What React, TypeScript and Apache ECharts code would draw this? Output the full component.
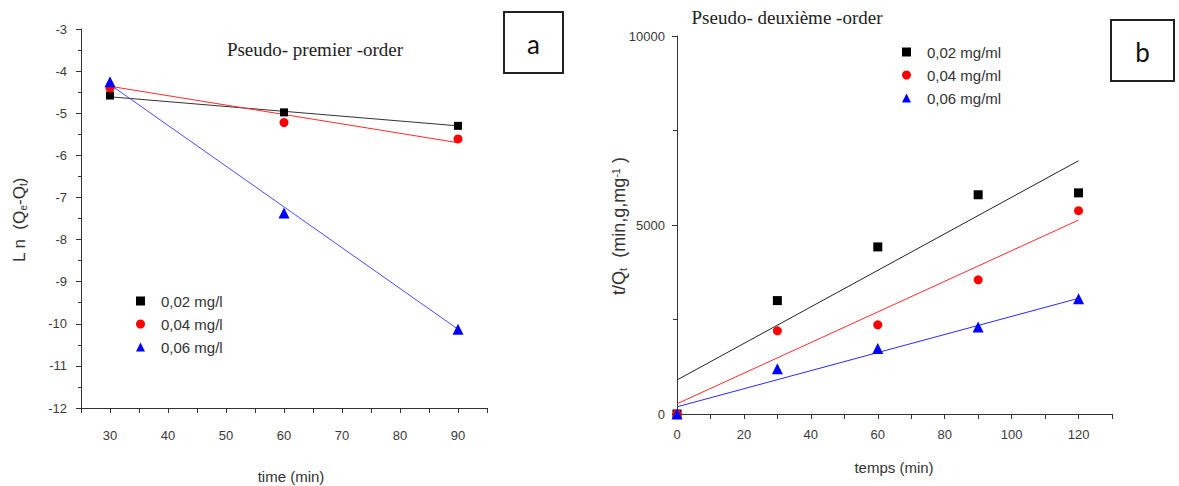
import React, { useEffect, useRef } from "react";
import * as echarts from "echarts";

// ---- Panel a : pseudo-premier-ordre ----
const timeA = [30, 60, 90];
const lnBlack = [-4.58, -4.98, -5.3];
const lnRed = [-4.4, -5.22, -5.61];
const lnBlue = [-4.25, -7.37, -10.13];
const fitTimeA = [30, 90];
const fitLnBlack = [-4.61, -5.3];
const fitLnRed = [-4.36, -5.7];
const fitLnBlue = [-4.32, -10.13];
const legendA = ["0,02 mg/l", "0,04 mg/l", "0,06 mg/l"];

// ---- Panel b : pseudo-deuxième-ordre ----
const timeB = [0, 30, 60, 90, 120];
const tqBlack = [0, 3000, 4420, 5800, 5850];
const tqRed = [0, 2200, 2360, 3550, 5380];
const tqBlue = [0, 1200, 1730, 2300, 3050];
const fitTimeB = [0, 120];
const fitTqBlack = [900, 6700];
const fitTqRed = [270, 5130];
const fitTqBlue = [190, 3060];
const legendB = ["0,02 mg/ml", "0,04 mg/ml", "0,06 mg/ml"];

const zip = (xs: number[], ys: number[]) => xs.map((x, i) => [x, ys[i]]);

const AXIS_COLOR = "#333";
const LABEL_COLOR = "#3a3a3a";
const SANS = "Liberation Sans";

export default function App() {
  const ref = useRef<HTMLDivElement>(null);
  useEffect(() => {
    if (!ref.current) return;
    const chart = echarts.init(ref.current, null, { renderer: "svg" });
    const axisCommon = {
      axisLine: { show: true, lineStyle: { color: AXIS_COLOR, width: 1 } },
      axisTick: { show: true, inside: false, length: 5, lineStyle: { color: AXIS_COLOR } },
      splitLine: { show: false },
    };
    const scatter = (name: string, data: number[][], color: string, symbol: string, size: number, xi: number) => ({
      type: "scatter",
      name,
      data,
      symbol,
      symbolSize: size,
      itemStyle: { color, opacity: 1 },
      xAxisIndex: xi,
      yAxisIndex: xi,
      z: 3,
    });
    const fit = (data: number[][], color: string, xi: number) => ({
      type: "line",
      data,
      showSymbol: false,
      symbol: "none",
      silent: true,
      lineStyle: { color, width: 1 },
      xAxisIndex: xi,
      yAxisIndex: xi,
      z: 2,
    });
    const legendCommon = {
      orient: "vertical",
      itemWidth: 9,
      itemHeight: 9,
      itemGap: 7,
      textStyle: { fontFamily: SANS, fontSize: 15, lineHeight: 16, color: "#333", padding: [0, 0, 0, 11] },
      selectedMode: false,
    };
    const option: any = {
      animation: false,
      grid: [
        { left: 81, top: 29, width: 406, height: 379 },
        { left: 677, top: 36, width: 435, height: 378 },
      ],
      xAxis: [
        {
          ...axisCommon,
          type: "value",
          gridIndex: 0,
          min: 25,
          max: 95,
          interval: 5,
          axisLabel: {
            color: LABEL_COLOR,
            fontFamily: SANS,
            fontSize: 13,
            margin: 21,
            formatter: (v: number) => (v % 10 === 0 ? String(v) : ""),
          },
        },
        {
          ...axisCommon,
          type: "value",
          gridIndex: 1,
          min: 0,
          max: 130,
          interval: 10,
          axisLabel: {
            color: LABEL_COLOR,
            fontFamily: SANS,
            fontSize: 13,
            margin: 14,
            formatter: (v: number) => (v % 20 === 0 && v <= 120 ? String(v) : ""),
          },
        },
      ],
      yAxis: [
        {
          ...axisCommon,
          type: "value",
          gridIndex: 0,
          min: -12,
          max: -3,
          interval: 1,
          minorTick: { show: true, splitNumber: 2, length: 3, lineStyle: { color: AXIS_COLOR } },
          axisLabel: { color: LABEL_COLOR, fontFamily: SANS, fontSize: 13, margin: 14, formatter: (v: number) => String(v) },
        },
        {
          ...axisCommon,
          type: "value",
          gridIndex: 1,
          min: 0,
          max: 10000,
          interval: 5000,
          minorTick: { show: true, splitNumber: 2, length: 4, lineStyle: { color: AXIS_COLOR } },
          axisLabel: { color: LABEL_COLOR, fontFamily: SANS, fontSize: 13, margin: 12, formatter: (v: number) => String(v) },
        },
      ],
      legend: [
        { ...legendCommon, data: legendA, left: 131, top: 288 },
        { ...legendCommon, data: legendB, left: 897, top: 39 },
      ],
      series: [
        fit(zip(fitTimeA, fitLnBlack), "#333333", 0),
        fit(zip(fitTimeA, fitLnRed), "#ff2a2a", 0),
        fit(zip(fitTimeA, fitLnBlue), "#4a4aff", 0),
        scatter(legendA[0], zip(timeA, lnBlack), "#000000", "rect", 8, 0),
        scatter(legendA[1], zip(timeA, lnRed), "#ff0000", "circle", 9, 0),
        scatter(legendA[2], zip(timeA, lnBlue), "#0000ff", "triangle", 11, 0),
        fit(zip(fitTimeB, fitTqBlack), "#222222", 1),
        fit(zip(fitTimeB, fitTqRed), "#ff2a2a", 1),
        fit(zip(fitTimeB, fitTqBlue), "#2a2aff", 1),
        scatter(legendB[0], zip(timeB, tqBlack), "#000000", "rect", 9, 1),
        scatter(legendB[1], zip(timeB, tqRed), "#ff0000", "circle", 9, 1),
        scatter(legendB[2], zip(timeB, tqBlue), "#0000ff", "triangle", 11, 1),
      ],
      graphic: [
        {
          type: "text",
          x: 315,
          y: 49,
          style: { text: "Pseudo- premier -order", font: '19px "Liberation Serif"', fill: "#222", align: "center", verticalAlign: "middle" },
        },
        {
          type: "text",
          x: 787,
          y: 17,
          style: { text: "Pseudo- deuxième -order", font: '19px "Liberation Serif"', fill: "#222", align: "center", verticalAlign: "middle" },
        },
        { type: "rect", shape: { x: 504, y: 12, width: 59, height: 61 }, style: { fill: "#fff", stroke: "#222", lineWidth: 2 } },
        { type: "text", x: 533.5, y: 44, style: { text: "a", font: '26px "Lato"', fill: "#111", align: "center", verticalAlign: "middle" } },
        { type: "rect", shape: { x: 1111, y: 20, width: 63, height: 61 }, style: { fill: "#fff", stroke: "#222", lineWidth: 2 } },
        { type: "text", x: 1142.5, y: 52, style: { text: "b", font: '26px "Lato"', fill: "#111", align: "center", verticalAlign: "middle" } },
        {
          type: "text",
          x: 291,
          y: 476,
          style: { text: "time (min)", font: `15px "${SANS}"`, fill: "#333", align: "center", verticalAlign: "middle" },
        },
        {
          type: "text",
          x: 894,
          y: 467,
          style: { text: "temps (min)", font: `15px "${SANS}"`, fill: "#333", align: "center", verticalAlign: "middle" },
        },
        {
          type: "text",
          x: 19,
          y: 220,
          rotation: Math.PI / 2,
          style: {
            text: "L n  (Q{s|e}-Q{s|t})",
            font: `17px "${SANS}"`,
            fill: "#333",
            align: "center",
            verticalAlign: "middle",
            lineHeight: 18,
            rich: {
              s: { fontSize: 10, fontFamily: SANS, fill: "#333", lineHeight: 8, verticalAlign: "bottom" },
            },
          },
        },
        {
          type: "text",
          x: 619,
          y: 226,
          rotation: Math.PI / 2,
          style: {
            text: "t/Q{s|t}  (min,g,mg{p|-1} )",
            font: `18px "${SANS}"`,
            fill: "#333",
            align: "center",
            verticalAlign: "middle",
            lineHeight: 18,
            rich: {
              s: { fontSize: 11, fontFamily: SANS, fill: "#333", lineHeight: 8, verticalAlign: "bottom" },
              p: { fontSize: 11, fontFamily: SANS, fill: "#333", lineHeight: 8, verticalAlign: "top" },
            },
          },
        },
      ],
    };
    chart.setOption(option);
    return () => chart.dispose();
  }, []);
  return <div ref={ref} style={{ position: "absolute", left: 0, top: 0, width: 1179, height: 486, background: "#fff" }} />;
}
